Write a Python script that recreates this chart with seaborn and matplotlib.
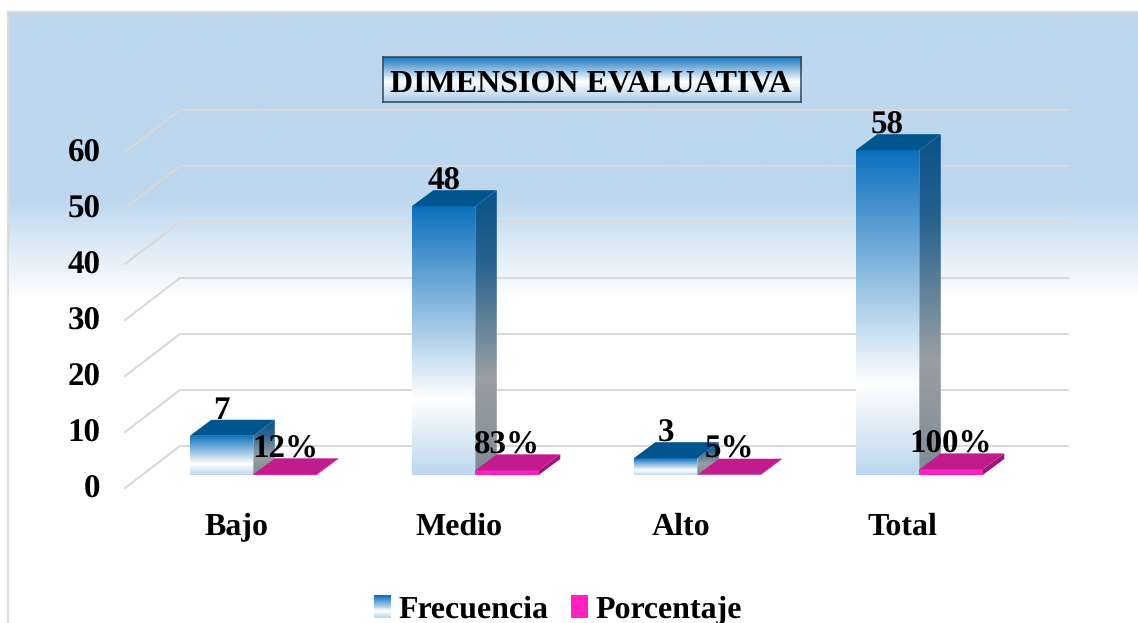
import numpy as np
import pandas as pd
import matplotlib
matplotlib.use("Agg")
import matplotlib.pyplot as plt
import seaborn as sns
from matplotlib.colors import LinearSegmentedColormap
from matplotlib.patches import Polygon, Patch, Rectangle
from matplotlib.legend_handler import HandlerBase
from matplotlib.transforms import ScaledTranslation

categories = ["Bajo", "Medio", "Alto", "Total"]
frecuencia = [7, 48, 3, 58]
porcentaje = [0.12, 0.83, 0.05, 1.00]
porcentaje_labels = ["12%", "83%", "5%", "100%"]
y_ticks = [0, 10, 20, 30, 40, 50, 60]
title = "DIMENSION EVALUATIVA"
series_names = ["Frecuencia", "Porcentaje"]

W, H = 1138, 623
SERIF = "Liberation Serif"
FS = 23
FS_NUM = 24

sns.set_theme(style="white")
plt.rcParams["font.family"] = [SERIF, "DejaVu Sans"]
plt.rcParams["font.weight"] = "bold"
plt.rcParams["text.hinting"] = "none"
plt.rcParams["text.hinting_factor"] = 1

def px_axes(fig, x0, y0, x1, y1, **kw):
    return fig.add_axes([x0 / W, 1 - y1 / H, (x1 - x0) / W, (y1 - y0) / H], **kw)

def cmap(stops):
    return LinearSegmentedColormap.from_list("g", stops, N=512)

RAMP = np.linspace(0, 1, 512)[:, None]
BLUE_FRONT = cmap([(0, "#0B6FBD"), (0.72, "#FFFFFF"), (1, "#BDD7EE")])
BLUE_SIDE = cmap([(0, "#0A5289"), (0.25, "#27628F"), (0.66, "#999FA3"), (1, "#7F8C96")])
GRID = "#D9D9D9"

fig = plt.figure(figsize=(W / 100, H / 100), dpi=100, facecolor="white")

# chart-area background
bg = px_axes(fig, 8, 12, W, H, zorder=0)
f = lambda y: (y - 12) / (H - 12)
bg.imshow(RAMP, aspect="auto", cmap=cmap([(0, "#BDD7EE"), (f(198), "#BDD7EE"),
                                          (f(298), "#FFFFFF"), (1, "#FFFFFF")]),
          extent=(0, 1, 0, 1), vmin=0, vmax=1)
bg.set_xticks([]); bg.set_yticks([])
for s in ("right", "bottom"):
    bg.spines[s].set_visible(False)
for s in ("left", "top"):
    bg.spines[s].set_color(GRID); bg.spines[s].set_linewidth(1.5)

# title box
tb = px_axes(fig, 383, 56.5, 801, 102, zorder=1)
tb.imshow(RAMP, aspect="auto", cmap=cmap([(0, "#0B6FBD"), (0.55, "#FFFFFF"), (1, "#A9CBE8")]),
          extent=(0, 1, 0, 1), vmin=0, vmax=1)
tb.set_xticks([]); tb.set_yticks([])
for s in tb.spines.values():
    s.set_color("#2F4656"); s.set_linewidth(1.1)

# main plot: the bar plane spans x 142.3..1030.3, y 475..139 px
ax = px_axes(fig, 142.3, 139, 1030.3, 475, zorder=2)
ax.patch.set_alpha(0)

df = pd.DataFrame({
    "cat": categories * 2,
    "value": frecuencia + porcentaje,
    "serie": [series_names[0]] * 4 + [series_names[1]] * 4,
})
sns.barplot(data=df, x="cat", y="value", hue="serie", ax=ax, width=0.572, gap=0,
            palette=["#0B6FBD", "#FF22C0"], legend=False, saturation=1, linewidth=0)
ax.set_xlim(-0.5, 3.5)
ax.set_ylim(0, 60)
ax.set_xlabel(""); ax.set_ylabel("")
sns.despine(ax=ax, left=True, bottom=True)

DX = 21.5 / 222   # depth of a bar, data units
DY = 16 / 5.6

# 3D wall gridlines
bx, by = 37.7 / 222, 29 / 5.6
fx, fy = -17.3 / 222, -13 / 5.6
x0, x1 = ax.get_xlim()
for v in y_ticks:
    ax.plot([x0 + fx, x0 + bx, x1 + bx], [v + fy, v + by, v + by], color=GRID,
            lw=1.5, clip_on=False, zorder=0.5, solid_joinstyle="miter")

def grad_poly(pts, cm, z):
    poly = Polygon(pts, closed=True, transform=ax.transData, facecolor="none", edgecolor="none")
    ax.add_patch(poly)
    poly.set_clip_on(False)
    xs, ys = zip(*pts)
    im = ax.imshow(RAMP, aspect="auto", cmap=cm, vmin=0, vmax=1, zorder=z,
                   extent=(min(xs), max(xs), min(ys), max(ys)))
    im.set_clip_box(fig.bbox)
    im.set_clip_path(poly)
    return im

bars = list(ax.patches)
bars = [b for b in bars if isinstance(b, Rectangle) and b.get_width() > 0][:8]
for i, b in enumerate(bars):
    l, w, h = b.get_x(), b.get_width(), b.get_height()
    r = l + w
    blue = i < 4
    z = 2 if blue else 3
    b.set_zorder(z)
    if blue:
        grad_poly([(l, 0), (r, 0), (r, h), (l, h)], BLUE_FRONT, z)
        grad_poly([(r, 0), (r + DX, DY), (r + DX, h + DY), (r, h)], BLUE_SIDE, z)
        top = "#00558F"
        lab = str(frecuencia[i])
    else:
        ax.add_patch(Polygon([(r, 0), (r + DX, DY), (r + DX, h + DY), (r, h)],
                             facecolor="#A0147A", edgecolor="none", zorder=z, clip_on=False))
        top = "#C11B8E"
        lab = porcentaje_labels[i - 4]
    ax.add_patch(Polygon([(l, h), (r, h), (r + DX, h + DY), (l + DX, h + DY)],
                         facecolor=top, edgecolor="none", zorder=z, clip_on=False))
    ax.text(l + w / 2, h + DY + 0.15, lab, ha="center", va="baseline", fontsize=FS_NUM,
            fontweight="bold", color="black", family=SERIF, zorder=5, clip_on=False)

ax.set_xlim(x0, x1)
ax.set_ylim(0, 60)

# ticks: shifted to the front edge of the floor
ax.set_yticks(y_ticks)
ax.set_yticklabels([str(v) for v in y_ticks])
ax.tick_params(axis="y", length=0, pad=30, labelsize=FS_NUM)
ax.tick_params(axis="x", length=0, pad=27, labelsize=FS)
ax.grid(False)
for t in ax.get_yticklabels():
    t.set_fontweight("bold"); t.set_color("black")
    t.set_transform(t.get_transform() + ScaledTranslation(0, -11.5 / 100, fig.dpi_scale_trans))
for t in ax.get_xticklabels():
    t.set_fontweight("bold"); t.set_color("black")
    t.set_transform(t.get_transform() + ScaledTranslation(-16.5 / 100, 0, fig.dpi_scale_trans))

ax.set_title(title, x=(591 - 142.3) / 888, y=(475 - 92) / 336, fontsize=FS,
             fontweight="bold", color="black", pad=0, va="baseline")

# legend
class GradientHandler(HandlerBase):
    def create_artists(self, legend, orig, xd, yd, width, height, fontsize, trans):
        n = 24
        out = []
        for k in range(n):
            c = BLUE_FRONT(k / (n - 1))
            out.append(Rectangle((xd * -1, -yd + height * (1 - (k + 1) / n)), width, height / n,
                                 facecolor=c, edgecolor="none", transform=trans))
        return out

h1 = Patch(label=series_names[0])
h2 = Patch(facecolor="#FF22C0", edgecolor="none", label=series_names[1])
leg = ax.legend(handles=[h1, h2], handler_map={h1: GradientHandler()}, ncol=2,
                loc="center", bbox_to_anchor=(558 / W, 1 - 610 / H),
                bbox_transform=fig.transFigure, frameon=False, fontsize=FS,
                handlelength=0.53, handleheight=0.7, handletextpad=0.22, columnspacing=0.72,
                borderpad=0, borderaxespad=0)
for t in leg.get_texts():
    t.set_fontweight("bold"); t.set_color("black")

fig.savefig("out.png", dpi=100, facecolor="white")
